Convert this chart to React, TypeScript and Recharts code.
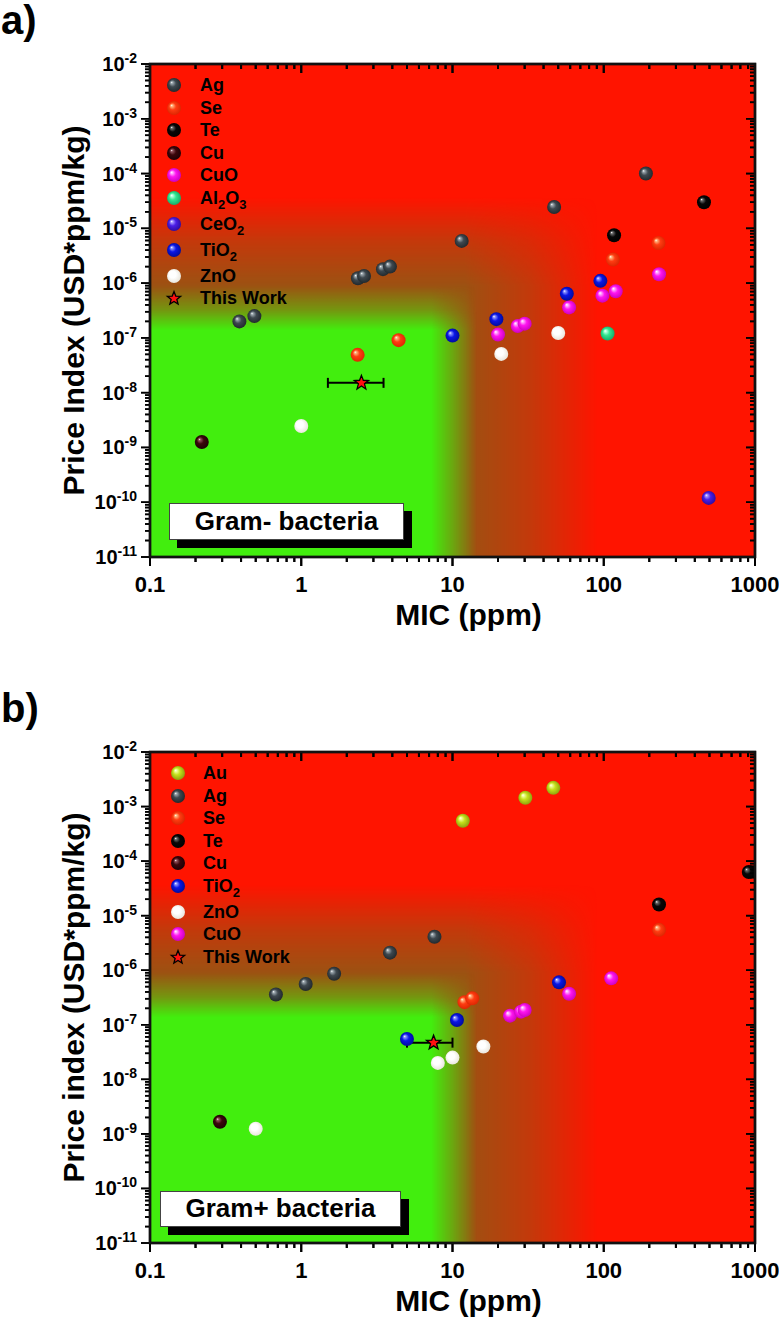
import React from 'react';
import { ScatterChart, Scatter, XAxis, YAxis, ReferenceArea, ErrorBar, Label } from 'recharts';

const FONT = '"Liberation Sans", Arial, Helvetica, sans-serif';

// ---------- axis ticks ----------
const xMajorTicks = [0.1, 1, 10, 100, 1000];
const xTickLabels = ['0.1', '1', '10', '100', '1000'];
const yMajorTicks = [1e-11, 1e-10, 1e-9, 1e-8, 1e-7, 1e-6, 1e-5, 1e-4, 1e-3, 1e-2];
const yTickExponents = ['-11', '-10', '-9', '-8', '-7', '-6', '-5', '-4', '-3', '-2'];
const minorSteps = [2, 3, 4, 5, 6, 7, 8, 9];
const X_MIN = 0.1, X_MAX = 1000, Y_MIN = 1e-11, Y_MAX = 1e-2;

function withMinor(majors: number[]) {
  const out: number[] = [];
  majors.forEach((m, i) => {
    out.push(m);
    if (i < majors.length - 1) minorSteps.forEach((k) => out.push(parseFloat((m * k).toPrecision(6))));
  });
  return out;
}
const xAllTicks = withMinor(xMajorTicks);
const yAllTicks = withMinor(yMajorTicks);

// ---------- panel a) Gram- data ----------
const agA = [
  { x: 0.39, y: 2.0e-7 }, { x: 0.49, y: 2.5e-7 }, { x: 2.37, y: 1.23e-6 }, { x: 2.6, y: 1.35e-6 },
  { x: 3.47, y: 1.8e-6 }, { x: 3.86, y: 2.0e-6 }, { x: 11.5, y: 5.9e-6 }, { x: 47, y: 2.45e-5 }, { x: 190, y: 1.0e-4 },
];
const seA = [{ x: 2.36, y: 4.9e-8 }, { x: 4.4, y: 9.1e-8 }, { x: 115, y: 2.7e-6 }, { x: 230, y: 5.4e-6 }];
const teA = [{ x: 117, y: 7.5e-6 }, { x: 460, y: 3.0e-5 }];
const cuA = [{ x: 0.22, y: 1.26e-9 }];
const cuoA = [
  { x: 20, y: 1.15e-7 }, { x: 27, y: 1.65e-7 }, { x: 30, y: 1.82e-7 }, { x: 59, y: 3.6e-7 },
  { x: 98, y: 5.9e-7 }, { x: 120, y: 7.1e-7 }, { x: 232, y: 1.45e-6 },
];
const al2o3A = [{ x: 106, y: 1.2e-7 }];
const ceo2A = [{ x: 494, y: 1.2e-10 }];
const tio2A = [{ x: 10, y: 1.1e-7 }, { x: 19.5, y: 2.2e-7 }, { x: 57, y: 6.4e-7 }, { x: 95, y: 1.1e-6 }];
const znoA = [{ x: 1.0, y: 2.46e-9 }, { x: 21, y: 5.1e-8 }, { x: 50, y: 1.23e-7 }];
const thisWorkA = [{ x: 2.5, y: 1.51e-8, xErr: 1.0 }];

// ---------- panel b) Gram+ data ----------
const auB = [{ x: 11.7, y: 5.5e-4 }, { x: 30.3, y: 1.45e-3 }, { x: 46.4, y: 2.2e-3 }];
const agB = [{ x: 0.68, y: 3.6e-7 }, { x: 1.07, y: 5.6e-7 }, { x: 1.65, y: 8.6e-7 }, { x: 3.86, y: 2.1e-6 }, { x: 7.6, y: 4.1e-6 }];
const seB = [{ x: 12, y: 2.6e-7 }, { x: 13.5, y: 3.05e-7 }, { x: 232, y: 5.5e-6 }];
const teB = [{ x: 232, y: 1.6e-5 }, { x: 910, y: 6.3e-5 }];
const cuB = [{ x: 0.29, y: 1.67e-9 }];
const tio2B = [{ x: 5.0, y: 5.5e-8 }, { x: 10.7, y: 1.22e-7 }, { x: 50.6, y: 6.0e-7 }];
const znoB = [{ x: 0.5, y: 1.24e-9 }, { x: 8.0, y: 2.0e-8 }, { x: 10, y: 2.5e-8 }, { x: 16, y: 4.0e-8 }];
const cuoB = [{ x: 24, y: 1.47e-7 }, { x: 28.4, y: 1.74e-7 }, { x: 30, y: 1.86e-7 }, { x: 59, y: 3.7e-7 }, { x: 112, y: 7.1e-7 }];
const thisWorkB = [{ x: 7.5, y: 4.7e-8, xErr: 2.5 }];

const namesA = ['Ag', 'Se', 'Te', 'Cu', 'CuO', 'Al2O3', 'CeO2', 'TiO2', 'ZnO', 'This Work'];
const dataA = [agA, seA, teA, cuA, cuoA, al2o3A, ceo2A, tio2A, znoA, thisWorkA];
const namesB = ['Au', 'Ag', 'Se', 'Te', 'Cu', 'TiO2', 'ZnO', 'CuO', 'This Work'];
const dataB = [auB, agB, seB, teB, cuB, tio2B, znoB, cuoB, thisWorkB];

// ---------- styles ----------
const sphereStyles: Record<string, { base: string; light: string; dark: string }> = {
  Au: { base: '#c4e01c', light: '#f2ff9c', dark: '#86980a' },
  Ag: { base: '#3e484f', light: '#9aa6ad', dark: '#1e2529' },
  Se: { base: '#ff3c12', light: '#ffb27a', dark: '#d82400' },
  Te: { base: '#070707', light: '#6a6a6a', dark: '#000000' },
  Cu: { base: '#3c060b', light: '#93525c', dark: '#1a0004' },
  CuO: { base: '#ff14f0', light: '#ffb0ff', dark: '#c400b8' },
  Al2O3: { base: '#32e690', light: '#b4ffdc', dark: '#14a462' },
  CeO2: { base: '#4a1ee6', light: '#a898ff', dark: '#2a0a9a' },
  TiO2: { base: '#0a16e6', light: '#8c94ff', dark: '#000a92' },
  ZnO: { base: '#ffffff', light: '#ffffff', dark: '#e6e2d6' },
};
const GREEN = '#42ee0e';
const RED = '#ff1400';
const BROWN = '#9c5212';
const R_SPHERE = 7;

function sphereGradient(id: string, name: string) {
  const s = sphereStyles[name];
  return (
    <radialGradient key={id} id={id} cx="0.5" cy="0.5" r="0.55" fx="0.32" fy="0.3">
      <stop offset="0" stopColor="#ffffff" />
      <stop offset="0.14" stopColor={s.light} />
      <stop offset="0.45" stopColor={s.base} />
      <stop offset="1" stopColor={s.dark} />
    </radialGradient>
  );
}

function starPoints(cx: number, cy: number, R: number, r: number) {
  const pts: string[] = [];
  for (let i = 0; i < 10; i++) {
    const a = (-90 + i * 36) * (Math.PI / 180);
    const rad = i % 2 === 0 ? R : r;
    pts.push(`${cx + rad * Math.cos(a)},${cy + rad * Math.sin(a)}`);
  }
  return pts.join(' ');
}

function renderName(name: string, subSize: number) {
  const parts = name.split(/(\d)/).filter((p) => p !== '');
  return parts.map((p, i) =>
    /\d/.test(p) ? (
      <span key={i} style={{ fontSize: subSize, position: 'relative', top: 5 }}>{p}</span>
    ) : (
      <span key={i}>{p}</span>
    )
  );
}

// ---------- tick labels (from the axes) ----------
function BottomTick(p: any) {
  const x = Number(p.x);
  const y = Number(p.y);
  const i = xMajorTicks.indexOf(p.payload.value);
  if (i < 0) return <g />;
  return (
    <text x={x} y={y + 35} textAnchor="middle" fontFamily={FONT} fontWeight="bold" fontSize={22} fill="#000">
      {xTickLabels[i]}
    </text>
  );
}
function LeftTick(p: any) {
  const x = Number(p.x);
  const y = Number(p.y);
  const i = yMajorTicks.indexOf(p.payload.value);
  if (i < 0) return <g />;
  return (
    <text x={x - 13} y={y + 7} textAnchor="end" fontFamily={FONT} fontWeight="bold" fontSize={20} fill="#000">
      <tspan>10</tspan>
      <tspan dy={-8} fontSize={14}>{yTickExponents[i]}</tspan>
    </text>
  );
}

// ---------- frame + tick marks for a plot box ----------
function FrameTicks({ x, y, w, h }: { x: number; y: number; w: number; h: number }) {
  const lx = (v: number) => x + (w * (Math.log10(v) - Math.log10(X_MIN))) / (Math.log10(X_MAX) - Math.log10(X_MIN));
  const ly = (v: number) => y + (h * (Math.log10(Y_MAX) - Math.log10(v))) / (Math.log10(Y_MAX) - Math.log10(Y_MIN));
  return (
    <g>
      {xAllTicks.map((v) => {
        const len = xMajorTicks.indexOf(v) >= 0 ? 9 : 5;
        const tx = lx(v);
        return (
          <g key={`xt${v}`}>
            <line x1={tx} x2={tx} y1={y + h} y2={y + h + len} stroke="#000" strokeWidth={2} />
            <line x1={tx} x2={tx} y1={y} y2={y + len} stroke="#000" strokeWidth={2} />
          </g>
        );
      })}
      {yAllTicks.map((v) => {
        const len = yMajorTicks.indexOf(v) >= 0 ? 9 : 5;
        const ty = ly(v);
        return (
          <g key={`yt${v}`}>
            <line x1={x - len} x2={x} y1={ty} y2={ty} stroke="#000" strokeWidth={1.6} />
            <line x1={x + w - len} x2={x + w} y1={ty} y2={ty} stroke="#000" strokeWidth={1.6} />
          </g>
        );
      })}
      <rect x={x} y={y} width={w} height={h} fill="none" stroke="#111" strokeWidth={2.4} />
    </g>
  );
}

// ---------- background ----------
function makeBackground(pref: string, names: string[]) {
  return (p: any) => {
    const x = Number(p.x), y = Number(p.y), w = Number(p.width), h = Number(p.height);
    const st = (o: number, a: number) => <stop offset={o} stopColor="#fff" stopOpacity={a} />;
    const mask = (id: string, grad: string) => (
      <mask id={id} maskUnits="userSpaceOnUse" x={x - 2} y={y - 2} width={w + 4} height={h + 4}>
        <rect x={x} y={y} width={w} height={h} fill={`url(#${grad})`} />
      </mask>
    );
    return (
      <g>
        <defs>
          {names.filter((n) => sphereStyles[n]).map((n) => sphereGradient(`${pref}-sph-${n}`, n))}
          <linearGradient id={`${pref}-gh`} x1="0" y1="0" x2="1" y2="0">
            {st(0.465, 1)}{st(0.5, 0.55)}{st(0.54, 0)}
          </linearGradient>
          <linearGradient id={`${pref}-gv`} x1="0" y1="0" x2="0" y2="1">
            {st(0.45, 0)}{st(0.5, 0.45)}{st(0.54, 1)}
          </linearGradient>
          <linearGradient id={`${pref}-bh`} x1="0" y1="0" x2="1" y2="0">
            {st(0.52, 1)}{st(0.63, 0.6)}{st(0.74, 0)}
          </linearGradient>
          <linearGradient id={`${pref}-bv`} x1="0" y1="0" x2="0" y2="1">
            {st(0.27, 0)}{st(0.36, 0.6)}{st(0.45, 1)}
          </linearGradient>
          {mask(`${pref}-mgh`, `${pref}-gh`)}
          {mask(`${pref}-mgv`, `${pref}-gv`)}
          {mask(`${pref}-mbh`, `${pref}-bh`)}
          {mask(`${pref}-mbv`, `${pref}-bv`)}
        </defs>
        <rect x={x} y={y} width={w} height={h} fill={RED} />
        <g mask={`url(#${pref}-mbh)`}>
          <rect x={x} y={y} width={w} height={h} fill={BROWN} mask={`url(#${pref}-mbv)`} />
        </g>
        <g mask={`url(#${pref}-mgh)`}>
          <rect x={x} y={y} width={w} height={h} fill={GREEN} mask={`url(#${pref}-mgv)`} />
        </g>
        <FrameTicks x={x} y={y} w={w} h={h} />
      </g>
    );
  };
}

// ---------- panel ----------
type PanelProps = {
  pref: string;
  top: number;
  height: number;
  xAxisHeight: number;
  names: string[];
  data: { x: number; y: number; xErr?: number }[][];
  yTitle: string;
  panelLabel: string;
  markerX: number;
  textX: number;
  boxText: string;
  boxLeft: number;
  boxWidth: number;
  boxHeight: number;
};

const M_TOP = 64, M_RIGHT = 24, Y_AXIS_W = 150, CHART_W = 779;

function Panel(pp: PanelProps) {
  const Bg = makeBackground(pp.pref, pp.names);
  let cy = 85;
  const rows = pp.names.map((n) => {
    const rowY = cy;
    cy += /\d/.test(n) ? 26 : 22.5;
    return { n, rowY };
  });
  const plotW = CHART_W - M_RIGHT - Y_AXIS_W;
  const plotH = pp.height - M_TOP - pp.xAxisHeight;
  const xTitle = (props: any) => {
    const vb = props.viewBox || { x: 150, y: 557, width: 605, height: 100 };
    return (
      <text x={vb.x + vb.width / 2 + 16} y={vb.y + 68} textAnchor="middle" fontFamily={FONT} fontWeight="bold" fontSize={30} fill="#000">
        MIC (ppm)
      </text>
    );
  };
  const yTitle = (props: any) => {
    const vb = props.viewBox || { x: 0, y: 64, width: 150, height: 493 };
    const tx = vb.x + 84;
    const ty = vb.y + vb.height / 2;
    return (
      <text x={tx} y={ty} transform={`rotate(-90 ${tx} ${ty})`} textAnchor="middle" fontFamily={FONT} fontWeight="bold" fontSize={30} fill="#000">
        {pp.yTitle}
      </text>
    );
  };
  const axisLine = { stroke: '#000', strokeWidth: 2 };
  return (
    <div style={{ position: 'absolute', left: 0, top: pp.top, width: CHART_W, height: pp.height }}>
      <ScatterChart width={CHART_W} height={pp.height} margin={{ top: M_TOP, right: M_RIGHT, bottom: 0, left: 0 }}>
        <ReferenceArea xAxisId="b" yAxisId="l" x1={X_MIN} x2={X_MAX} y1={Y_MIN} y2={Y_MAX} shape={Bg} ifOverflow="visible" />
        <XAxis
          xAxisId="b" type="number" dataKey="x" scale="log" domain={[X_MIN, X_MAX]} allowDataOverflow
          ticks={xAllTicks} interval={0} tickSize={0} tickMargin={0} tickLine={false}
          tick={(p: any) => <BottomTick {...p} />} axisLine={axisLine} height={pp.xAxisHeight}
        >
          <Label content={xTitle} />
        </XAxis>
        <YAxis
          yAxisId="l" type="number" dataKey="y" scale="log" domain={[Y_MIN, Y_MAX]} allowDataOverflow
          ticks={yAllTicks} interval={0} tickSize={0} tickMargin={0} tickLine={false}
          tick={(p: any) => <LeftTick {...p} />} axisLine={axisLine} width={Y_AXIS_W}
        >
          <Label content={yTitle} />
        </YAxis>
        {pp.names.map((n, i) => {
          const isStar = !sphereStyles[n];
          return (
            <Scatter
              key={n}
              name={n}
              xAxisId="b"
              yAxisId="l"
              data={pp.data[i]}
              dataKey="y"
              isAnimationActive={false}
              shape={(p: any) =>
                isStar ? (
                  <polygon points={starPoints(p.cx, p.cy, 7.5, 3.2)} fill="#ff1010" stroke="#000" strokeWidth={1.3} />
                ) : (
                  <circle cx={p.cx} cy={p.cy} r={R_SPHERE} fill={`url(#${pp.pref}-sph-${n})`} />
                )
              }
            >
              {isStar && <ErrorBar dataKey="xErr" direction="x" width={5} strokeWidth={2} stroke="#000" />}
            </Scatter>
          );
        })}
      </ScatterChart>

      {/* frame and tick marks on top of everything */}
      <svg
        width={CHART_W}
        height={pp.height}
        style={{ position: 'absolute', left: 0, top: 0, pointerEvents: 'none', overflow: 'visible' }}
      >
        <FrameTicks x={Y_AXIS_W} y={M_TOP} w={plotW} h={plotH} />
      </svg>

      {rows.map(({ n, rowY }) => (
        <div key={n} style={{ position: 'absolute', left: 0, top: rowY - 11, height: 22, width: 300 }}>
          <svg width={20} height={20} style={{ position: 'absolute', left: pp.markerX - 10, top: 1 }}>
            {sphereStyles[n] ? (
              <>
                <defs>{sphereGradient(`${pp.pref}-lg-${n}`, n)}</defs>
                <circle cx={10} cy={10} r={R_SPHERE} fill={`url(#${pp.pref}-lg-${n})`} />
              </>
            ) : (
              <polygon points={starPoints(10, 10.5, 7, 3)} fill="#ff1010" stroke="#000" strokeWidth={1.3} />
            )}
          </svg>
          <div
            style={{
              position: 'absolute', left: pp.textX, top: 0, lineHeight: '22px', fontFamily: FONT,
              fontWeight: 'bold', fontSize: 18, color: '#000', whiteSpace: 'nowrap',
            }}
          >
            {renderName(n, 13)}
          </div>
        </div>
      ))}

      <div
        style={{
          position: 'absolute', left: pp.boxLeft, top: 503, width: pp.boxWidth, height: pp.boxHeight,
          background: '#fff', border: '1.5px solid #444', boxSizing: 'border-box', boxShadow: '8px 8px 0 #000',
          fontFamily: FONT, fontWeight: 'bold', fontSize: 26, lineHeight: `${pp.boxHeight - 3}px`, textAlign: 'center', color: '#000',
        }}
      >
        {pp.boxText}
      </div>

      <div style={{ position: 'absolute', left: 1, top: -3, fontFamily: FONT, fontWeight: 'bold', fontSize: 40, lineHeight: '46px', color: '#000' }}>
        {pp.panelLabel}
      </div>
    </div>
  );
}

export default function App() {
  return (
    <div style={{ position: 'absolute', left: 0, top: 0, width: 779, height: 1332, background: '#fff' }}>
      <Panel
        pref="pa" top={0} height={666} xAxisHeight={109} names={namesA} data={dataA}
        yTitle="Price Index (USD*ppm/kg)" panelLabel="a)" markerX={174} textX={200}
        boxText="Gram- bacteria" boxLeft={169} boxWidth={235} boxHeight={37}
      />
      <Panel
        pref="pb" top={688} height={644} xAxisHeight={89} names={namesB} data={dataB}
        yTitle="Price index (USD*ppm/kg)" panelLabel="b)" markerX={178} textX={203}
        boxText="Gram+ bacteria" boxLeft={160} boxWidth={241} boxHeight={36}
      />
    </div>
  );
}
